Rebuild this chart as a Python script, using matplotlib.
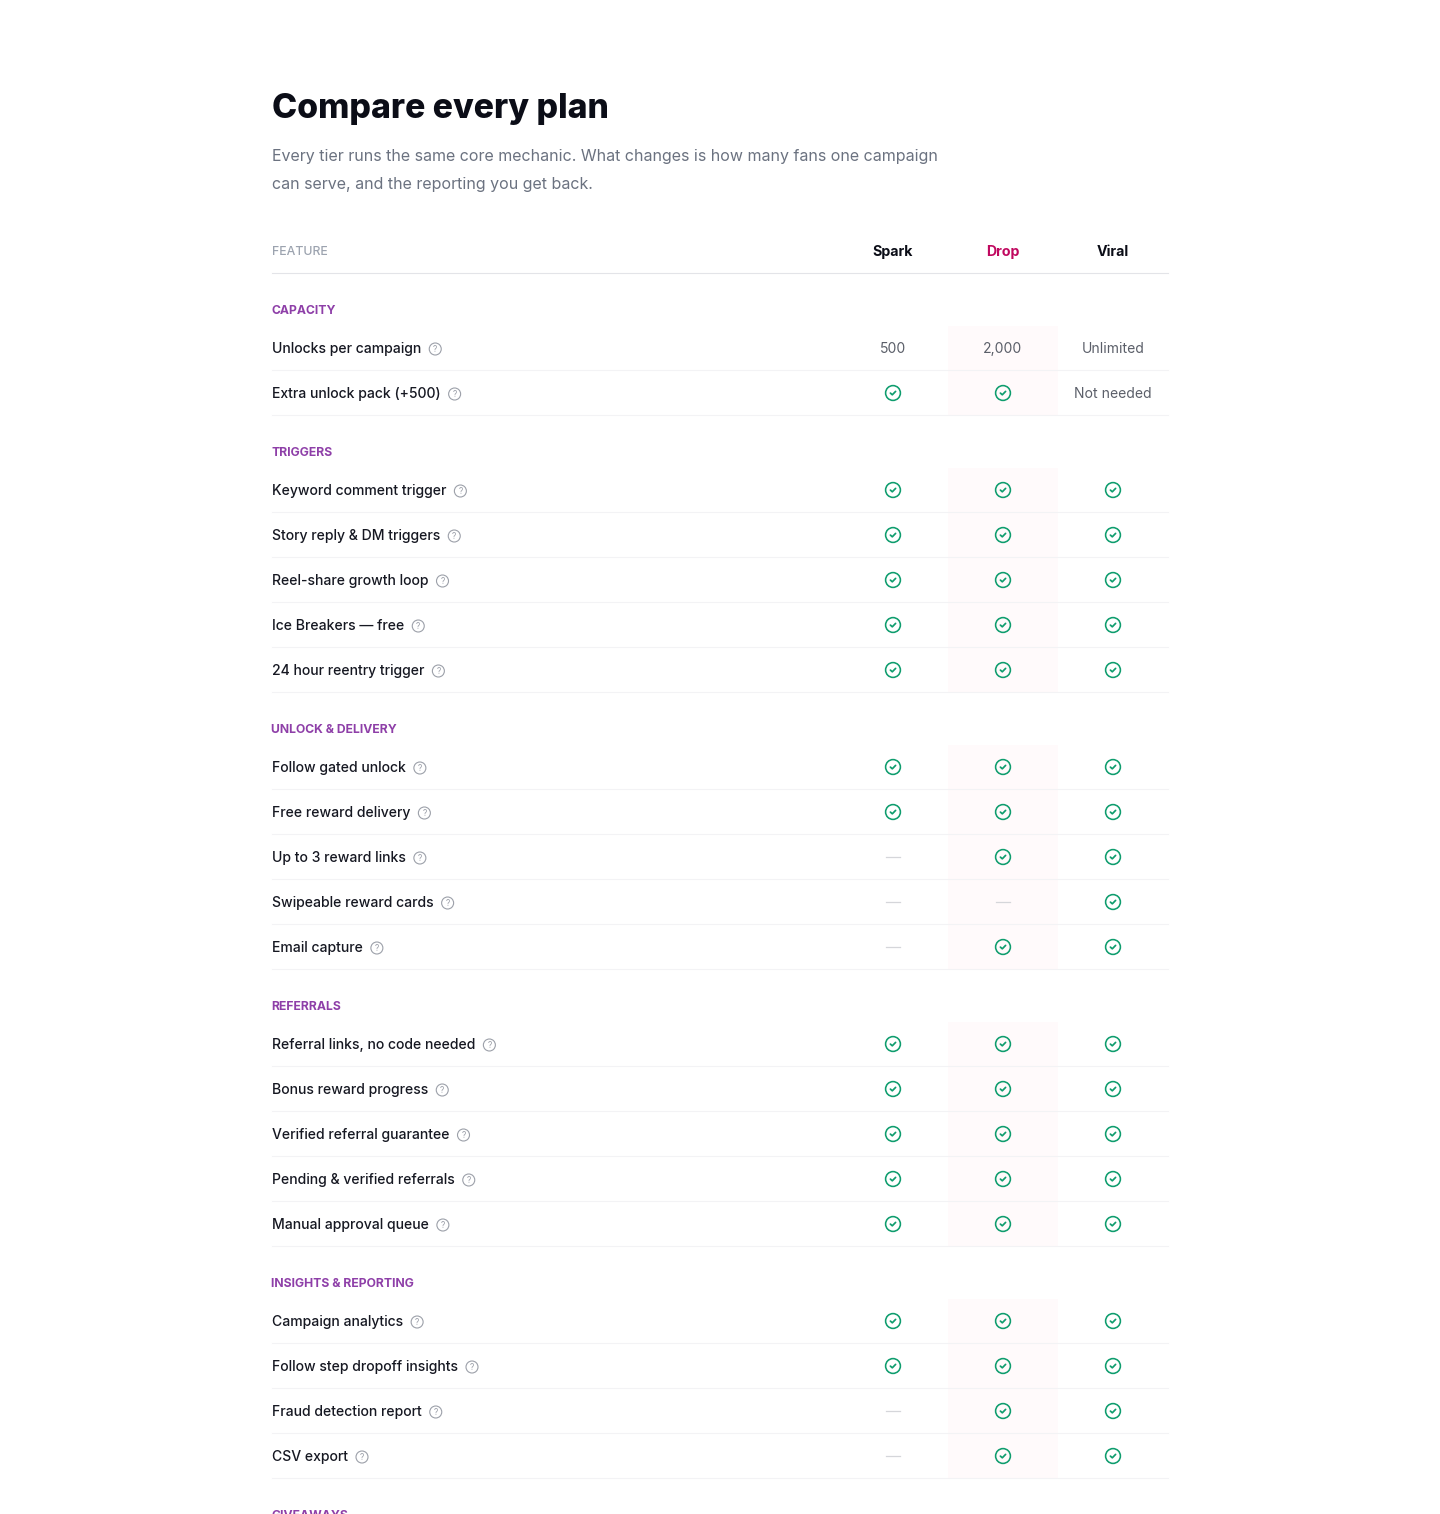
import matplotlib
matplotlib.use("Agg")
import matplotlib.pyplot as plt
from matplotlib.patches import Circle, Rectangle

plt.rcParams['font.family'] = ['Inter', 'DejaVu Sans']

W, H = 1440, 1514

title = "Compare every plan"
subtitle = ["Every tier runs the same core mechanic. What changes is how many fans one campaign",
            "can serve, and the reporting you get back."]
plans = ["Spark", "Drop", "Viral"]

# Y = check, N = dash, anything else is shown as text
capacity = [("Unlocks per campaign", "500", "2,000", "Unlimited"),
            ("Extra unlock pack (+500)", "Y", "Y", "Not needed")]
triggers = [("Keyword comment trigger", "Y", "Y", "Y"),
            ("Story reply & DM triggers", "Y", "Y", "Y"),
            ("Reel-share growth loop", "Y", "Y", "Y"),
            ("Ice Breakers — free", "Y", "Y", "Y"),
            ("24 hour reentry trigger", "Y", "Y", "Y")]
delivery = [("Follow gated unlock", "Y", "Y", "Y"),
            ("Free reward delivery", "Y", "Y", "Y"),
            ("Up to 3 reward links", "N", "Y", "Y"),
            ("Swipeable reward cards", "N", "N", "Y"),
            ("Email capture", "N", "Y", "Y")]
referrals = [("Referral links, no code needed", "Y", "Y", "Y"),
             ("Bonus reward progress", "Y", "Y", "Y"),
             ("Verified referral guarantee", "Y", "Y", "Y"),
             ("Pending & verified referrals", "Y", "Y", "Y"),
             ("Manual approval queue", "Y", "Y", "Y")]
insights = [("Campaign analytics", "Y", "Y", "Y"),
            ("Follow step dropoff insights", "Y", "Y", "Y"),
            ("Fraud detection report", "N", "Y", "Y"),
            ("CSV export", "N", "Y", "Y")]
sections = [("CAPACITY", capacity), ("TRIGGERS", triggers), ("UNLOCK & DELIVERY", delivery),
            ("REFERRALS", referrals), ("INSIGHTS & REPORTING", insights), ("GIVEAWAYS", [])]

INK = "#0b0d17"
ROW_INK = "#161822"
GREY = "#6b7280"
PURPLE = "#8e3fa8"
PINK = "#c0085f"
GREEN = "#0f9d6e"
LINE = "#f3f3f5"
BAND = "#fffafb"

LEFT, RIGHT = 272, 1168
COL_X = [893, 1003, 1113]
ROW_H = 45


def px(size):
    return size * 72 / 100


fig = plt.figure(figsize=(W / 100, H / 100), dpi=100)
ax = fig.add_axes([0, 0, 1, 1])
ax.set_xlim(0, W)
ax.set_ylim(H, 0)
ax.axis("off")
renderer = fig.canvas.get_renderer()


def label(x, y, s, size, color, weight="normal", ha="left"):
    # y is the text baseline, keeps rows from jittering by a pixel
    return ax.text(x, y, s, fontsize=px(size), color=color, fontweight=weight,
                   ha=ha, va="baseline")


def draw_check(x, y):
    ax.add_patch(Circle((x, y), 7.4, fill=False, ec=GREEN, lw=1.15))
    ax.plot([x - 2.6, x - 0.7, x + 2.6], [y + 0.1, y + 1.8, y - 1.6], color=GREEN, lw=1.25,
            solid_capstyle="round", solid_joinstyle="round")


def draw_help(x, y):
    ax.add_patch(Circle((x, y), 6, fill=False, ec="#9ca0a9", lw=0.8))
    ax.text(x, y + 0.2, "?", fontsize=px(8.5), color="#9ca0a9", ha="center", va="center")


label(LEFT, 118, title, 33.8, INK, 800)
label(LEFT, 161, subtitle[0], 16, GREY)
label(LEFT, 189, subtitle[1], 16, GREY)

label(LEFT, 255, "FEATURE", 12.3, "#9ca3af", "medium")
for name, x in zip(plans, COL_X):
    label(x, 256, name, 14.2, PINK if name == "Drop" else INK, "bold", ha="center")
ax.plot([LEFT, RIGHT], [273, 273], color="#e3e4e8", lw=0.8)

y = 309
for sec_name, rows in sections:
    label(LEFT - 0.8, y + 5, sec_name, 12.2, PURPLE, "bold")
    if rows:
        top = y + 17
        ax.add_patch(Rectangle((948, top), 110, ROW_H * len(rows), fc=BAND, ec="none", zorder=0))
    cy = y + 39
    for row in rows:
        t = label(LEFT, cy + 5, row[0], 14, ROW_INK, "medium")
        end = t.get_window_extent(renderer).x1
        draw_help(end + 14, cy + 1)
        ax.plot([LEFT, RIGHT], [cy + 22, cy + 22], color=LINE, lw=0.8, zorder=1)
        for val, x in zip(row[1:], COL_X):
            if val == "Y":
                draw_check(x, cy)
            elif val == "N":
                ax.plot([x - 7, x + 7], [cy, cy], color="#d5d6da", lw=0.9)
            else:
                label(x, cy + 5, val, 14, "#5b5f69", ha="center")
        cy += ROW_H
    y = cy - ROW_H + 58

fig.savefig("out.png", dpi=100, facecolor="white")
